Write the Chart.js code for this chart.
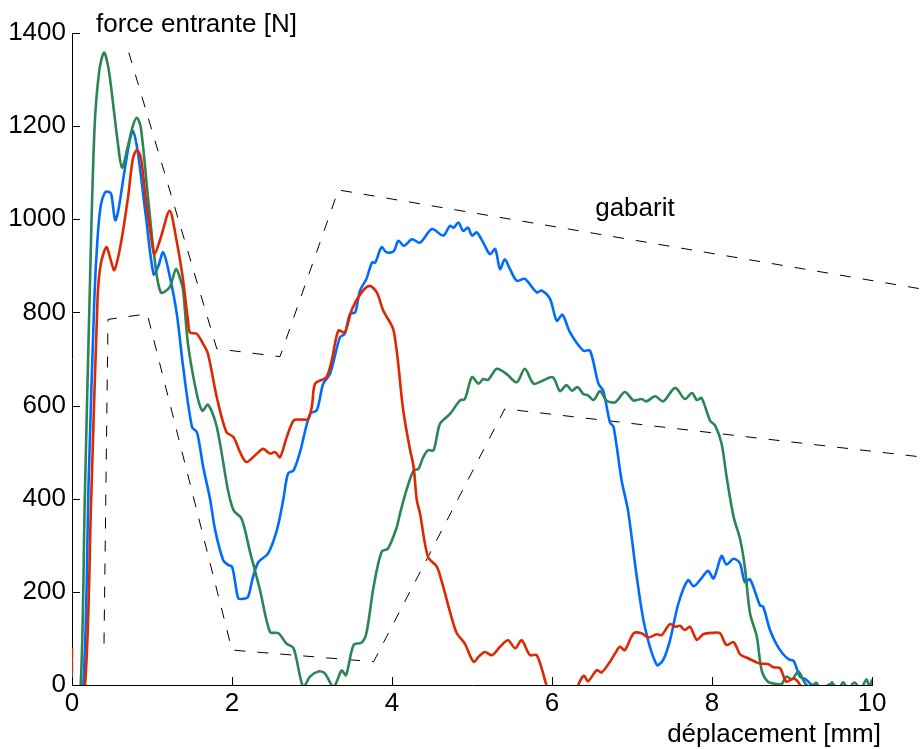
<!DOCTYPE html>
<html>
<head>
<meta charset="utf-8">
<script src="https://cdn.jsdelivr.net/npm/chart.js@4.4.1/dist/chart.umd.min.js"></script>
<style>
  html, body { margin: 0; padding: 0; background: #ffffff; }
  #wrap { width: 924px; height: 749px; position: relative; }
  canvas { display: block; }
</style>
</head>
<body>
<div id="wrap"><canvas id="c" width="924" height="749"></canvas></div>
<script>
// ---- Data ----
const xTicks = [0, 2, 4, 6, 8, 10];
const yTicks = [0, 200, 400, 600, 800, 1000, 1200, 1400];

const redX = [0, 0.01, 0.15, 0.24, 0.32, 0.36, 0.43, 0.48, 0.53, 0.61, 0.70, 0.76, 0.81, 0.86, 0.925, 0.99, 1.03, 1.11, 1.22, 1.30, 1.38, 1.45, 1.475, 1.56, 1.64, 1.70, 1.81, 1.93, 2.02, 2.10, 2.18, 2.30, 2.39, 2.475, 2.54, 2.60, 2.68, 2.77, 2.85, 2.95, 3.00, 3.04, 3.18, 3.25, 3.33, 3.41, 3.50, 3.62, 3.72, 3.81, 3.89, 4.02, 4.14, 4.22, 4.27, 4.31, 4.35, 4.45, 4.56, 4.64, 4.72, 4.81, 4.91, 5.02, 5.09, 5.16, 5.25, 5.35, 5.45, 5.54, 5.62, 5.725, 5.81, 5.93, 6.00, 6.28, 6.33, 6.40, 6.45, 6.56, 6.62, 6.725, 6.79, 6.85, 6.91, 7.02, 7.12, 7.20, 7.31, 7.37, 7.475, 7.54, 7.60, 7.66, 7.725, 7.81, 7.89, 8.00, 8.10, 8.18, 8.27, 8.35, 8.43, 8.54, 8.60, 8.70, 8.77, 8.85, 8.93, 9.02, 9.10, 9.15];
const redY = [80, -30, -30, 400, 832, 904, 940, 915, 891, 947, 1047, 1129, 1149, 1133, 1040, 961, 925, 961, 1018, 961, 880, 782, 757, 754, 732, 711, 618, 543, 532, 500, 479, 495, 507, 497, 500, 489, 530, 568, 570, 571, 600, 647, 661, 700, 761, 757, 807, 843, 857, 843, 804, 761, 590, 510, 468, 397, 368, 275, 254, 211, 160, 111, 89, 50, 62, 71, 64, 82, 96, 79, 96, 64, 64, 0, -40, -40, 0, 20, 8, 32, 27, 50, 68, 82, 75, 111, 111, 102, 109, 107, 131, 125, 127, 118, 125, 97, 109, 112, 111, 86, 92, 66, 59, 50, 46, 45, 38, 36, 7, 14, 0, -30];

const blueX = [0, 0.13, 0.21, 0.28, 0.32, 0.36, 0.41, 0.45, 0.49, 0.54, 0.58, 0.65, 0.72, 0.76, 0.82, 0.925, 1.02, 1.08, 1.14, 1.225, 1.31, 1.39, 1.50, 1.56, 1.60, 1.64, 1.725, 1.79, 1.89, 1.95, 2.00, 2.04, 2.08, 2.14, 2.20, 2.26, 2.33, 2.45, 2.56, 2.64, 2.70, 2.77, 2.85, 2.975, 3.06, 3.14, 3.225, 3.35, 3.41, 3.475, 3.54, 3.60, 3.68, 3.75, 3.79, 3.87, 3.93, 4.02, 4.08, 4.15, 4.25, 4.35, 4.50, 4.64, 4.725, 4.77, 4.83, 4.89, 4.95, 5.00, 5.06, 5.14, 5.225, 5.29, 5.35, 5.41, 5.475, 5.56, 5.66, 5.81, 5.87, 5.975, 6.06, 6.13, 6.225, 6.39, 6.475, 6.58, 6.64, 6.725, 6.77, 6.87, 6.95, 7.06, 7.16, 7.31, 7.39, 7.475, 7.58, 7.70, 7.77, 7.85, 7.95, 8.02, 8.12, 8.18, 8.27, 8.35, 8.41, 8.475, 8.60, 8.64, 8.725, 8.81, 8.89, 8.96, 9.02, 9.06, 9.10, 9.18, 9.25, 9.31, 9.36, 9.45, 9.50, 9.55, 9.70];
const blueY = [-30, -30, 450, 832, 961, 1030, 1057, 1059, 1054, 998, 1020, 1097, 1168, 1190, 1147, 1004, 882, 900, 929, 875, 797, 682, 554, 543, 510, 468, 400, 332, 268, 258, 254, 220, 186, 185, 189, 230, 264, 282, 332, 397, 454, 461, 500, 582, 590, 647, 668, 747, 754, 797, 800, 847, 872, 907, 907, 940, 929, 931, 954, 943, 957, 950, 979, 965, 986, 982, 993, 975, 982, 965, 972, 950, 925, 936, 893, 914, 893, 868, 872, 843, 847, 829, 782, 795, 757, 718, 718, 647, 632, 564, 554, 439, 375, 232, 125, 43, 54, 96, 175, 225, 212, 225, 245, 229, 277, 259, 271, 261, 221, 227, 171, 168, 118, 86, 66, 55, 52, 35, 18, 11, 0, 2, -20, -20, 6, -20, -30];

const greenX = [0, 0.01, 0.10, 0.16, 0.22, 0.28, 0.34, 0.40, 0.45, 0.49, 0.57, 0.625, 0.70, 0.76, 0.81, 0.86, 0.95, 1.03, 1.11, 1.22, 1.30, 1.36, 1.39, 1.45, 1.56, 1.63, 1.70, 1.81, 1.95, 2.02, 2.12, 2.225, 2.35, 2.475, 2.58, 2.68, 2.77, 2.89, 2.975, 3.08, 3.16, 3.27, 3.37, 3.425, 3.52, 3.62, 3.68, 3.77, 3.87, 3.95, 4.06, 4.10, 4.18, 4.27, 4.33, 4.39, 4.45, 4.52, 4.60, 4.725, 4.85, 4.91, 5.00, 5.08, 5.14, 5.20, 5.31, 5.43, 5.56, 5.66, 5.77, 5.89, 6.01, 6.10, 6.18, 6.25, 6.32, 6.39, 6.45, 6.52, 6.60, 6.68, 6.79, 6.91, 7.02, 7.12, 7.18, 7.29, 7.39, 7.54, 7.66, 7.75, 7.81, 7.87, 7.975, 8.04, 8.12, 8.18, 8.27, 8.35, 8.41, 8.475, 8.56, 8.62, 8.70, 8.81, 8.87, 8.93, 9.00, 9.08, 9.14, 9.18, 9.25, 9.30, 9.36, 9.50, 9.58, 9.64, 9.70, 9.78, 9.86, 9.93, 9.97, 10.0];
const greenY = [50, -30, -30, 400, 832, 1190, 1318, 1358, 1330, 1282, 1168, 1111, 1158, 1200, 1218, 1197, 1047, 918, 843, 854, 893, 868, 847, 732, 625, 589, 602, 554, 418, 375, 357, 286, 204, 114, 111, 89, 79, -4, 18, 29, 25, -4, 31, 21, 86, 91, 111, 211, 286, 293, 339, 368, 418, 461, 464, 489, 504, 504, 561, 582, 611, 614, 661, 647, 657, 655, 679, 668, 650, 679, 647, 654, 661, 631, 644, 632, 640, 625, 622, 612, 631, 611, 607, 629, 611, 614, 609, 620, 609, 638, 614, 627, 612, 616, 568, 557, 518, 450, 361, 314, 254, 154, 104, 32, 7, 2, 2, 18, 12, 29, 11, 0, -8, 5, -8, 3, -8, 6, -8, 5, -8, 12, -5, 12];

const gabaritHautX = [0.71, 1.81, 2.60, 3.33, 10.70];
const gabaritHautY = [1358, 722, 705, 1063, 848];
const gabaritBasX = [0.40, 0.45, 0.94, 2.00, 3.77, 5.41, 10.70];
const gabaritBasY = [89, 785, 797, 75, 50, 593, 488];

// ---- Build point lists from the arrays ----
function pts(xs, ys) { return xs.map((x, i) => ({ x: x, y: ys[i] })); }

const FONT = "'Liberation Sans', Arial, Helvetica, sans-serif";
const FSIZE = 26;
const TICK_IN = 8;

const extrasPlugin = {
  id: 'extras',
  afterDraw(chart) {
    const ctx = chart.ctx;
    const xs = chart.scales.x, ys = chart.scales.y;
    const a = chart.chartArea;
    ctx.save();
    // inward tick marks, placed through the scales
    ctx.strokeStyle = '#000000';
    ctx.lineWidth = 1;
    ctx.beginPath();
    xTicks.forEach(v => {
      const px = Math.round(xs.getPixelForValue(v)) + 0.5;
      ctx.moveTo(px, a.bottom);
      ctx.lineTo(px, a.bottom - TICK_IN);
    });
    yTicks.forEach(v => {
      const py = Math.round(ys.getPixelForValue(v)) + 0.5;
      ctx.moveTo(a.left, py);
      ctx.lineTo(a.left + TICK_IN, py);
    });
    ctx.stroke();
    // texts
    ctx.fillStyle = '#000000';
    ctx.font = FSIZE + 'px ' + FONT;
    ctx.textBaseline = 'alphabetic';
    ctx.textAlign = 'left';
    ctx.fillText('force entrante [N]', a.left + 24, a.top - 1);
    ctx.fillText('gabarit', xs.getPixelForValue(6.54), ys.getPixelForValue(1000) - 3);
    ctx.textAlign = 'right';
    ctx.fillText('déplacement [mm]', a.right + 9, a.bottom + 57);
    ctx.restore();
  }
};

new Chart(document.getElementById('c'), {
  type: 'line',
  data: {
    datasets: [
      { label: 'rouge', data: pts(redX, redY), borderColor: 'rgb(222,40,0)', borderWidth: 2.6, pointRadius: 0, tension: 0.3 },
      { label: 'vert', data: pts(greenX, greenY), borderColor: 'rgb(44,133,84)', borderWidth: 2.6, pointRadius: 0, tension: 0.3 },
      { label: 'bleu', data: pts(blueX, blueY), borderColor: 'rgb(0,108,255)', borderWidth: 2.6, pointRadius: 0, tension: 0.3 },
      { label: 'gabarit haut', data: pts(gabaritHautX, gabaritHautY), borderColor: '#000000', borderWidth: 1, borderDash: [11, 12], pointRadius: 0, tension: 0, clip: false },
      { label: 'gabarit bas', data: pts(gabaritBasX, gabaritBasY), borderColor: '#000000', borderWidth: 1, borderDash: [11, 12], pointRadius: 0, tension: 0, clip: false }
    ]
  },
  options: {
    responsive: false,
    animation: false,
    devicePixelRatio: 1,
    layout: { padding: { left: 0, right: 52, top: 33, bottom: 0 } },
    plugins: { legend: { display: false }, tooltip: { enabled: false }, title: { display: false } },
    scales: {
      x: {
        type: 'linear', min: 0, max: 10,
        afterFit(s) { s.height = 64; },
        afterBuildTicks(s) { s.ticks = xTicks.map(v => ({ value: v })); },
        ticks: { color: '#000', font: { family: FONT, size: FSIZE }, padding: 3, maxRotation: 0, autoSkip: false,
                 callback: v => String(v) },
        grid: { drawOnChartArea: false, drawTicks: false },
        border: { display: true, color: '#000', width: 1 }
      },
      y: {
        type: 'linear', min: 0, max: 1400,
        afterFit(s) { s.width = 72; },
        afterBuildTicks(s) { s.ticks = yTicks.map(v => ({ value: v })); },
        ticks: { color: '#000', font: { family: FONT, size: FSIZE }, padding: 6, autoSkip: false,
                 callback: v => String(v) },
        grid: { drawOnChartArea: false, drawTicks: false },
        border: { display: true, color: '#000', width: 1 }
      }
    }
  },
  plugins: [extrasPlugin]
});
</script>
</body>
</html>
